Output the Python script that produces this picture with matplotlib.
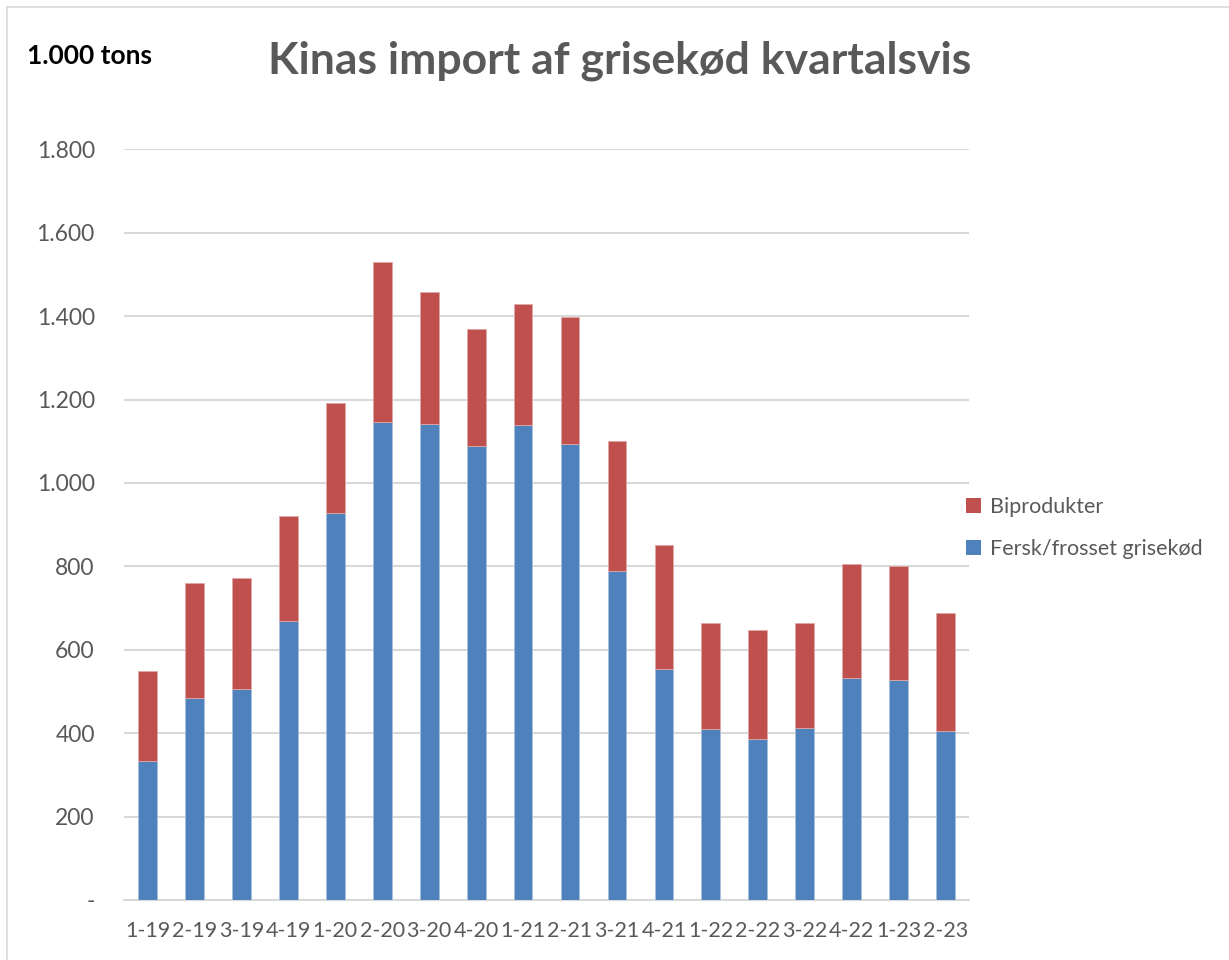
import matplotlib
matplotlib.use('Agg')
import matplotlib.pyplot as plt
from matplotlib.patches import Patch
from matplotlib.lines import Line2D
import numpy as np

plt.rcParams['font.family'] = ['Lato', 'DejaVu Sans']

kvartaler = ['1-19', '2-19', '3-19', '4-19', '1-20', '2-20', '3-20', '4-20', '1-21',
             '2-21', '3-21', '4-21', '1-22', '2-22', '3-22', '4-22', '1-23', '2-23']
fersk = [333, 484, 506, 668, 927, 1145, 1141, 1089, 1139, 1093, 788, 553, 411, 385, 412, 532, 528, 405]
biprodukter = [215, 277, 267, 253, 264, 385, 317, 280, 290, 304, 313, 298, 252, 262, 253, 273, 273, 282]
yticks = [0, 200, 400, 600, 800, 1000, 1200, 1400, 1600, 1800]
ytick_labels = ['-', '200', '400', '600', '800', '1.000', '1.200', '1.400', '1.600', '1.800']

blue = '#4F81BD'
red = '#C0504D'
grey = '#595959'

fig = plt.figure(figsize=(12.29, 9.60), dpi=100)
ax = fig.add_axes([0.1009, 0.0625, 0.6876, 0.782])

x = np.arange(len(kvartaler))
ax.bar(x, fersk, width=0.4, color=blue, edgecolor='#A7C0DE', linewidth=0.6, zorder=3)
ax.bar(x, biprodukter, bottom=fersk, width=0.4, color=red, edgecolor='#E0A8A6', linewidth=0.6, zorder=3)

ax.set_xlim(-0.5, len(kvartaler) - 0.5)
ax.set_ylim(0, 1800)
ax.set_yticks(yticks)
ax.set_yticklabels(ytick_labels)
ax.set_xticks(x)
ax.set_xticklabels(kvartaler)
ax.tick_params(axis='both', length=0, labelcolor=grey)
ax.tick_params(axis='y', pad=21, labelsize=16.5)
ax.tick_params(axis='x', pad=15, labelsize=15.5)
ax.grid(axis='y', color='#D9D9D9', linewidth=1.5, zorder=0)
for s in ['top', 'right', 'left']:
    ax.spines[s].set_visible(False)
ax.spines['bottom'].set_color('#D9D9D9')
ax.spines['bottom'].set_linewidth(1.5)

handles = [Patch(facecolor=red, label='Biprodukter'),
           Patch(facecolor=blue, label='Fersk/frosset grisekød')]
fig.legend(handles=handles, loc='center left', bbox_to_anchor=(0.786, 0.45), frameon=False,
           fontsize=15.5, labelcolor=grey, handlelength=0.72, handleheight=0.72,
           handletextpad=0.4, labelspacing=1.0, borderpad=0, borderaxespad=0)

fig.text(0.504, 0.923, 'Kinas import af grisekød kvartalsvis', ha='center', va='baseline',
         fontsize=32, fontweight='bold', color=grey)
fig.text(0.022, 0.933, '1.000 tons', ha='left', va='baseline', fontsize=19, fontweight='bold', color='black')

# outer chart frame
fig.add_artist(Line2D([0.0057, 0.0057], [0, 0.9927], color='#D9D9D9', linewidth=1.2))
fig.add_artist(Line2D([0.0057, 1.0], [0.9927, 0.9927], color='#D9D9D9', linewidth=1.2))

fig.savefig('out.png', dpi=100)
